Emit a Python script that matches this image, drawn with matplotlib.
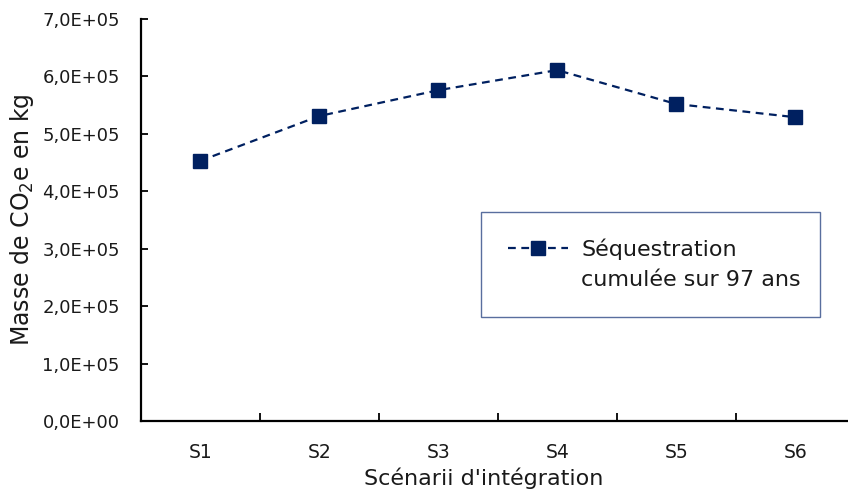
import matplotlib
matplotlib.use("Agg")
import matplotlib.pyplot as plt
from matplotlib.lines import Line2D
from matplotlib.ticker import FixedLocator

# Data
categories = ["S1", "S2", "S3", "S4", "S5", "S6"]
sequestration = [4.53e5, 5.31e5, 5.76e5, 6.11e5, 5.52e5, 5.29e5]
y_ticks = [0, 1e5, 2e5, 3e5, 4e5, 5e5, 6e5, 7e5]
y_tick_labels = ["0,0E+00", "1,0E+05", "2,0E+05", "3,0E+05",
                 "4,0E+05", "5,0E+05", "6,0E+05", "7,0E+05"]
series_label_1 = "Séquestration"
series_label_2 = "cumulée sur 97 ans"
x_label = "Scénarii d'intégration"
y_label = "Masse de CO$_2$e en kg"

plt.rcParams['font.family'] = ['DejaVu Sans']
navy = "#002060"

W, H = 848, 498
fig = plt.figure(figsize=(W / 100, H / 100), dpi=100)
ax = fig.add_axes([140.7 / W, (H - 421) / H, 714 / W, 402 / H])

x = list(range(len(categories)))
line, = ax.plot(x, sequestration, linestyle=(0, (3.5, 2.5)), color=navy,
                linewidth=1.6, marker="s", markersize=10,
                markerfacecolor=navy, markeredgecolor=navy)

ax.set_xlim(-0.5, len(categories) - 0.5)
ax.set_ylim(0, 7e5)
ax.set_yticks(y_ticks)
ax.set_yticklabels(y_tick_labels)
ax.set_xticks(x)
ax.set_xticklabels(categories)
ax.xaxis.set_minor_locator(FixedLocator([i + 0.5 for i in range(len(categories) - 1)]))

for s in ["top", "right"]:
    ax.spines[s].set_visible(False)
for s in ["left", "bottom"]:
    ax.spines[s].set_linewidth(1.6)
    ax.spines[s].set_color("black")

ax.tick_params(axis="y", direction="in", length=5, width=1.3, pad=15,
               labelsize=13, colors="black")
ax.tick_params(axis="x", which="major", length=0, pad=16, labelsize=13.5)
ax.tick_params(axis="x", which="minor", direction="in", length=6, width=1.3)
for t in ax.get_yticklabels() + ax.get_xticklabels():
    t.set_color("#1a1a1a")

fig.text(484 / W, 1 - 478 / H, x_label, ha="center", va="center",
         fontsize=16, color="#1a1a1a")
fig.text(22 / W, 1 - 220 / H, y_label, ha="center", va="center",
         rotation=90, fontsize=17, color="#1a1a1a")

blank = Line2D([], [], linestyle="none")
leg = fig.legend([line, blank], [series_label_1, series_label_2],
                 loc="upper left",
                 bbox_to_anchor=(481 / W, 1 - 212 / H, (820 - 481) / W, 0),
                 mode="expand", borderaxespad=0, fontsize=16,
                 handlelength=2.7, handletextpad=0.6, borderpad=1.2,
                 labelspacing=0.45, frameon=True, fancybox=False,
                 edgecolor="#2F4A86")
leg.get_frame().set_linewidth(1.0)
for t in leg.get_texts():
    t.set_color("#1a1a1a")

fig.savefig("out.png", dpi=100)
